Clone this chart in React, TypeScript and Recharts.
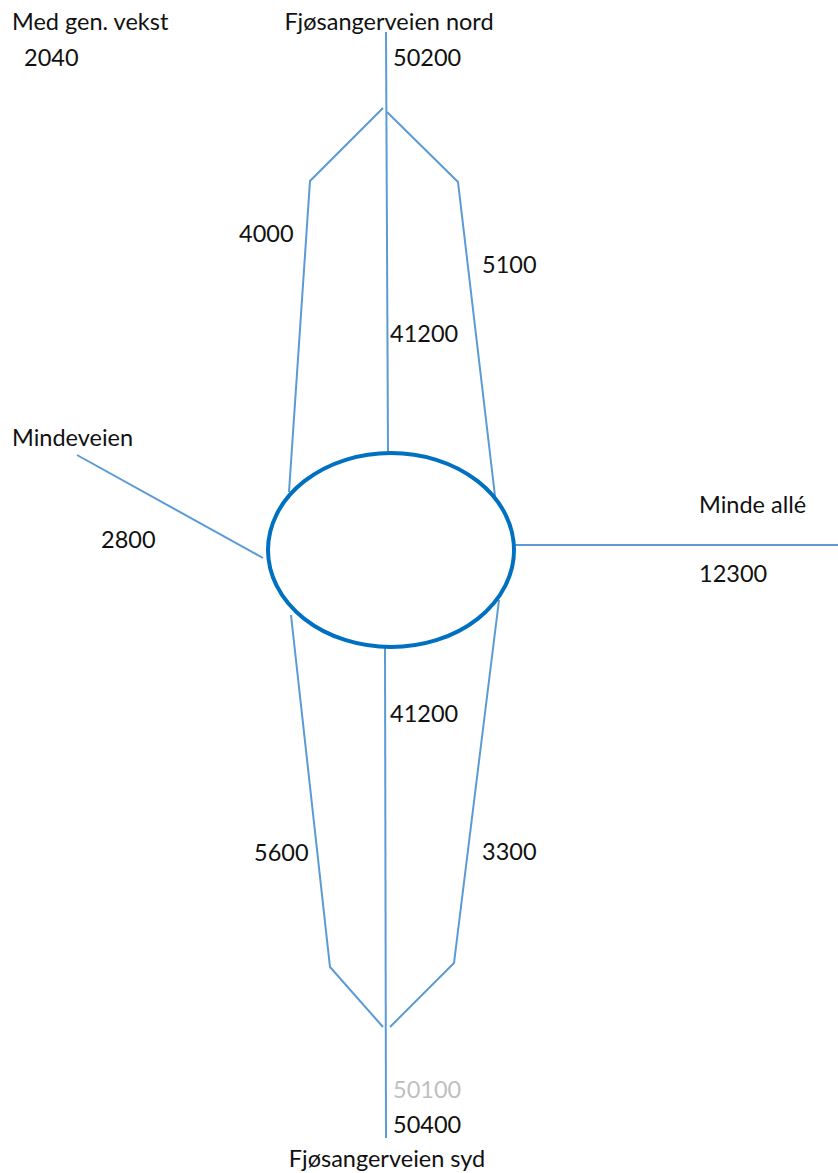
import React from "react";
import { ComposedChart, Line, Scatter, XAxis, YAxis } from "recharts";

// Diagram coordinate space (units), drawn through the chart's scales
const DOMAIN_X: [number, number] = [0, 838];
const DOMAIN_Y: [number, number] = [0, 1173];

// Road geometry (diagram units)
const northMain = [{ x: 386, y: 32 }, { x: 388, y: 452 }];
const northLeftRamp = [{ x: 383, y: 108 }, { x: 310, y: 181 }, { x: 289, y: 492 }];
const northRightRamp = [{ x: 387, y: 112 }, { x: 458, y: 182 }, { x: 495, y: 496 }];
const mindeveien = [{ x: 77, y: 455 }, { x: 263, y: 558 }];
const mindeAlle = [{ x: 514, y: 545 }, { x: 838, y: 545 }];
const southMain = [{ x: 385, y: 648 }, { x: 386, y: 1138 }];
const southLeftRamp = [{ x: 291, y: 615 }, { x: 330, y: 967 }, { x: 383, y: 1027 }];
const southRightRamp = [{ x: 499, y: 600 }, { x: 454, y: 963 }, { x: 390, y: 1027 }];

const roundabout = [{ x: 391, y: 550, rx: 123, ry: 97 }];

// Labels: road names and traffic volumes (ÅDT)
const labelTexts = [
  "Med gen. vekst", "2040", "Fjøsangerveien nord", "50200", "4000", "5100", "41200",
  "Mindeveien", "2800", "Minde allé", "12300", "41200", "5600", "3300",
  "50100", "50400", "Fjøsangerveien syd",
];
const labelX = [12, 24, 389, 393, 239, 482, 390, 12, 101, 699, 699, 390, 254, 482, 393, 393, 387];
const labelY = [30, 66, 30, 66, 242, 273, 342, 446, 548, 513, 582, 722, 861, 860, 1098, 1133, 1167];
const labelAnchor = ["start", "start", "middle", "start", "start", "start", "start", "start", "start", "start", "start", "start", "start", "start", "start", "start", "middle"];
const labelMuted = [false, false, false, false, false, false, false, false, false, false, false, false, false, false, true, false, false];

const labels = labelTexts.map((t, i) => ({
  x: labelX[i],
  y: labelY[i],
  text: t,
  anchor: labelAnchor[i],
  muted: labelMuted[i],
}));

const roads = [northMain, northLeftRamp, northRightRamp, mindeveien, mindeAlle, southMain, southLeftRamp, southRightRamp];

const ROAD_COLOR = "#5B9BD5";
const RING_COLOR = "#0070C0";

const EllipseShape = (props: any) => {
  const { cx, cy, payload } = props;
  return (
    <ellipse cx={cx} cy={cy} rx={payload.rx} ry={payload.ry} fill="none" stroke={RING_COLOR} strokeWidth={4} />
  );
};

const LabelShape = (props: any) => {
  const { cx, cy, payload } = props;
  return (
    <text
      x={cx}
      y={cy}
      textAnchor={payload.anchor}
      fontFamily="Lato, 'Open Sans', sans-serif"
      fontSize={23.5}
      fill={payload.muted ? "#BFBFBF" : "#111111"}
    >
      {payload.text}
    </text>
  );
};

export default function App() {
  return (
    <div style={{ position: "absolute", left: 0, top: 0, background: "#fff" }}>
      <ComposedChart width={838} height={1173} margin={{ top: 0, right: 0, bottom: 0, left: 0 }}>
        <XAxis type="number" dataKey="x" domain={DOMAIN_X} hide allowDataOverflow />
        <YAxis type="number" dataKey="y" domain={DOMAIN_Y} reversed hide allowDataOverflow />
        {roads.map((r, i) => (
          <Line
            key={i}
            data={r}
            dataKey="y"
            type="linear"
            stroke={ROAD_COLOR}
            strokeWidth={2}
            dot={false}
            activeDot={false}
            isAnimationActive={false}
          />
        ))}
        <Scatter data={roundabout} dataKey="y" shape={<EllipseShape />} isAnimationActive={false} />
        <Scatter data={labels} dataKey="y" shape={<LabelShape />} isAnimationActive={false} />
      </ComposedChart>
    </div>
  );
}
